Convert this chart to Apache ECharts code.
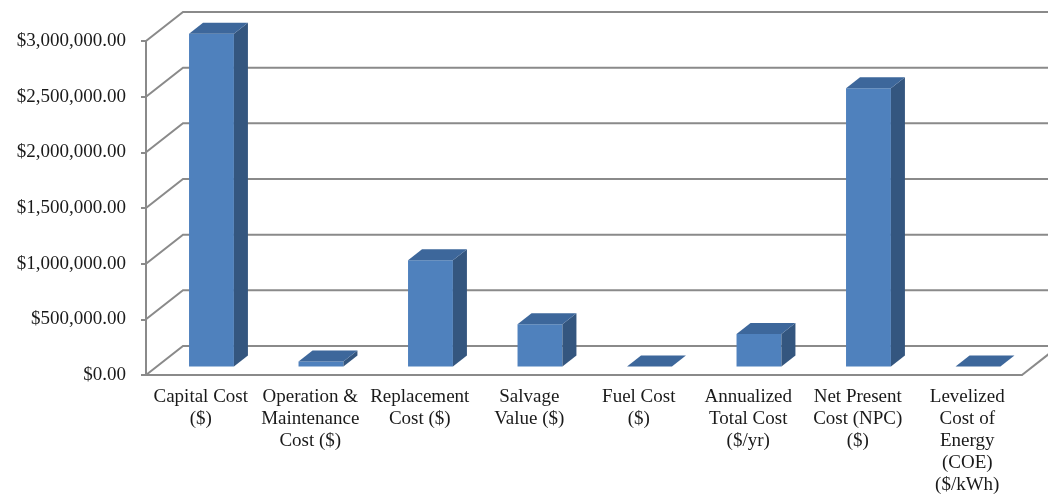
<!DOCTYPE html>
<html>
<head>
<meta charset="utf-8">
<title>Cost summary</title>
<script src="https://cdn.jsdelivr.net/npm/echarts@6/dist/echarts.min.js"></script>
<style>
  html, body { margin: 0; padding: 0; background: #fff; }
  #chart { width: 1048px; height: 497px; }
</style>
</head>
<body>
<div id="chart"></div>
<script>
// chart data
const categories = [
  'Capital Cost\n($)',
  'Operation &\nMaintenance\nCost ($)',
  'Replacement\nCost ($)',
  'Salvage\nValue ($)',
  'Fuel Cost\n($)',
  'Annualized\nTotal Cost\n($/yr)',
  'Net Present\nCost (NPC)\n($)',
  'Levelized\nCost of\nEnergy\n(COE)\n($/kWh)'
];
const costs = [2990000, 45000, 955000, 381000, 0, 293000, 2500000, 0.3];
const tickValues = [0, 500000, 1000000, 1500000, 2000000, 2500000, 3000000];

// fake 3d look (excel style oblique walls)
const WALL_DX = 37, WALL_DY = -29;   // floor depth
const BAR_FRONT = 0.29;             // where the bar front sits in the depth
const BAR_DX = 14, BAR_DY = -11;     // bar thickness
const GRID_COLOR = '#8a8a8a';
const FONT = "'Liberation Serif', 'Times New Roman', serif";

const chart = echarts.init(document.getElementById('chart'));

function money(v) {
  return '$' + v.toLocaleString('en-US', { minimumFractionDigits: 2, maximumFractionDigits: 2 });
}

const option = {
  animation: false,
  grid: { left: 146, right: 26, top: 41, bottom: 122 },
  xAxis: {
    type: 'category',
    data: categories,
    axisLine: { lineStyle: { color: GRID_COLOR, width: 2 } },
    axisTick: { interval: 0, length: 5, lineStyle: { color: GRID_COLOR, width: 2 } },
    axisLabel: {
      interval: 0, margin: 11, color: '#1a1a1a',
      fontFamily: FONT, fontSize: 19, lineHeight: 22
    }
  },
  yAxis: {
    type: 'value',
    min: 0, max: 3000000, interval: 500000,
    axisLine: { show: true, lineStyle: { color: GRID_COLOR, width: 2 } },
    axisTick: { show: true, length: 5, lineStyle: { color: GRID_COLOR, width: 2 } },
    splitLine: { show: false },
    axisLabel: {
      margin: 20, color: '#1a1a1a', fontFamily: FONT, fontSize: 19,
      formatter: money
    }
  },
  series: [
    {
      // side wall + back wall gridlines
      type: 'custom',
      clip: false,
      silent: true,
      data: tickValues.map(v => [0, v]),
      renderItem: function (params, api) {
        const cs = params.coordSys;
        const y = api.coord([0, api.value(1)])[1];
        const x0 = cs.x, x1 = cs.x + cs.width;
        const style = { stroke: GRID_COLOR, lineWidth: 2, fill: null };
        const kids = [{
          type: 'polyline',
          shape: { points: [[x0, y], [x0 + WALL_DX, y + WALL_DY], [x1 + WALL_DX, y + WALL_DY]] },
          style: style
        }];
        if (api.value(1) === 0) {
          kids.push({
            type: 'line',
            shape: { x1: x1, y1: y, x2: x1 + WALL_DX, y2: y + WALL_DY },
            style: style
          });
        }
        return { type: 'group', children: kids };
      }
    },
    {
      type: 'custom',
      clip: false,
      data: costs.map((v, i) => [i, v]),
      renderItem: function (params, api) {
        const band = api.size([1, 0])[0];
        const base = api.coord([api.value(0), 0]);
        const top = api.coord([api.value(0), api.value(1)]);
        const w = band * 0.41;
        const xL = base[0] - w / 2 + WALL_DX * BAR_FRONT;
        const xR = xL + w;
        const yB = base[1] + WALL_DY * BAR_FRONT;
        const yT = top[1] + WALL_DY * BAR_FRONT;
        return {
          type: 'group',
          children: [
            {
              type: 'rect',
              shape: { x: xL, y: yT, width: w, height: yB - yT },
              style: { fill: '#4f81bd' }
            },
            {
              type: 'polygon',
              shape: { points: [[xR, yB], [xR, yT], [xR + BAR_DX, yT + BAR_DY], [xR + BAR_DX, yB + BAR_DY]] },
              style: { fill: '#34567f' }
            },
            {
              type: 'polygon',
              shape: { points: [[xL, yT], [xR, yT], [xR + BAR_DX, yT + BAR_DY], [xL + BAR_DX, yT + BAR_DY]] },
              style: { fill: '#3d679b' }
            }
          ]
        };
      }
    }
  ]
};

chart.setOption(option);
</script>
</body>
</html>
